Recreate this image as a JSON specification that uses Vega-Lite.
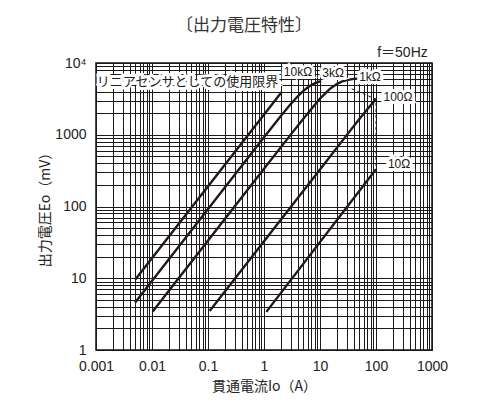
{
  "$schema": "https://vega.github.io/schema/vega-lite/v6.json",
  "width": 336,
  "height": 287,
  "autosize": {"type": "none"},
  "padding": {"left": 96, "top": 63, "right": 56, "bottom": 50},
  "background": "white",
  "title": {"text": "〔出力電圧特性〕", "font": "Noto Sans CJK JP", "fontSize": 17, "fontWeight": "normal", "color": "#333", "anchor": "middle", "frame": "group", "offset": 11, "dx": -20},
  "config": {
    "view": {"stroke": "#111", "strokeWidth": 1.5},
    "axis": {"gridColor": "#1a1a1a", "gridOpacity": 1, "gridWidth": 1, "ticks": false, "domain": false, "labelOverlap": false, "labelFlush": false, "labelFont": "Liberation Sans", "labelFontSize": 14, "labelColor": "#222", "titleFont": "Noto Sans CJK JP", "titleFontSize": 14, "titleFontWeight": "normal", "titleColor": "#222"}
  },
  "datasets": {
    "curves": [
      {"r": "10kΩ", "I": 0.005, "E": 9.5},
      {"r": "10kΩ", "I": 2.05, "E": 3900},
      {"r": "3kΩ", "I": 0.005, "E": 4.6},
      {"r": "3kΩ", "I": 1, "E": 920},
      {"r": "3kΩ", "I": 2, "E": 1823},
      {"r": "3kΩ", "I": 3, "E": 2676},
      {"r": "3kΩ", "I": 4, "E": 3434},
      {"r": "3kΩ", "I": 5, "E": 4064},
      {"r": "3kΩ", "I": 6, "E": 4555},
      {"r": "3kΩ", "I": 7, "E": 4924},
      {"r": "3kΩ", "I": 8, "E": 5193},
      {"r": "3kΩ", "I": 10, "E": 5530},
      {"r": "3kΩ", "I": 10.5, "E": 5586},
      {"r": "1kΩ", "I": 0.0103, "E": 3.45},
      {"r": "1kΩ", "I": 1, "E": 335},
      {"r": "1kΩ", "I": 3, "E": 1004},
      {"r": "1kΩ", "I": 5, "E": 1664},
      {"r": "1kΩ", "I": 10, "E": 3190},
      {"r": "1kΩ", "I": 15, "E": 4359},
      {"r": "1kΩ", "I": 20, "E": 5105},
      {"r": "1kΩ", "I": 25, "E": 5536},
      {"r": "1kΩ", "I": 30, "E": 5779},
      {"r": "1kΩ", "I": 40, "E": 6010},
      {"r": "1kΩ", "I": 48, "E": 6087},
      {"r": "100Ω", "I": 0.107, "E": 3.5},
      {"r": "100Ω", "I": 10, "E": 327},
      {"r": "100Ω", "I": 30, "E": 988},
      {"r": "100Ω", "I": 50, "E": 1639},
      {"r": "100Ω", "I": 70, "E": 2268},
      {"r": "100Ω", "I": 100, "E": 3135},
      {"r": "10Ω", "I": 1.1, "E": 3.4},
      {"r": "10Ω", "I": 100, "E": 330}
    ],
    "limit": [
      {"o": 1, "I": 37, "E": 4350},
      {"o": 2, "I": 100, "E": 3135},
      {"o": 3, "I": 100, "E": 330}
    ],
    "rlabels": [
      {"t": "10kΩ", "I": 4.05, "E": 7500},
      {"t": "3kΩ", "I": 17.1, "E": 7260},
      {"t": "1kΩ", "I": 78, "E": 6280},
      {"t": "100Ω", "I": 247, "E": 3357},
      {"t": "10Ω", "I": 258, "E": 391}
    ],
    "jlabels": [
      {"t": "リニアセンサとしての使用限界", "I": 0.043, "E": 5430}
    ],
    "flabel": [
      {"t": "f＝50Hz", "I": 297, "E": 13780}
    ]
  },
  "encoding": {
    "x": {"field": "I", "type": "quantitative", "scale": {"type": "log", "domain": [0.001, 1000], "nice": false},
      "axis": {"values": [0.001,0.002,0.003,0.004,0.005,0.006,0.007,0.008,0.009,0.01,0.02,0.03,0.04,0.05,0.06,0.07,0.08,0.09,0.1,0.2,0.3,0.4,0.5,0.6,0.7,0.8,0.9,1,2,3,4,5,6,7,8,9,10,20,30,40,50,60,70,80,90,100,200,300,400,500,600,700,800,900,1000],
        "labelExpr": "abs(log(datum.value)/LN10 - round(log(datum.value)/LN10)) < 0.001 ? format(datum.value, '~g') : ''",
        "labelPadding": 9, "title": "貫通電流Io（A）", "titleY": 36, "titleBaseline": "middle"}},
    "y": {"field": "E", "type": "quantitative", "scale": {"type": "log", "domain": [1, 10000], "nice": false},
      "axis": {"values": [1,2,3,4,5,6,7,8,9,10,20,30,40,50,60,70,80,90,100,200,300,400,500,600,700,800,900,1000,2000,3000,4000,5000,6000,7000,8000,9000,10000],
        "labelExpr": "datum.value == 10000 ? '10⁴' : (abs(log(datum.value)/LN10 - round(log(datum.value)/LN10)) < 0.001 ? format(datum.value, '~g') : '')",
        "labelPadding": 10, "title": "出力電圧Eo（mV）", "titleX": -51, "titleY": 143, "titleAlign": "center", "titleBaseline": "middle", "titleAngle": -90}}
  },
  "layer": [
    {"data": {"name": "curves"}, "mark": {"type": "line", "color": "#231815", "strokeWidth": 2.4}, "encoding": {"detail": {"field": "r"}}},
    {"data": {"name": "limit"}, "mark": {"type": "line", "color": "#231815", "strokeWidth": 1, "strokeDash": [3, 3]}, "encoding": {"order": {"field": "o"}}},
    {"data": {"name": "rlabels"}, "mark": {"type": "text", "font": "Liberation Sans", "fontSize": 12, "stroke": "white", "strokeWidth": 6, "fill": "white", "align": "center", "baseline": "middle"}, "encoding": {"text": {"field": "t"}}},
    {"data": {"name": "rlabels"}, "mark": {"type": "text", "font": "Liberation Sans", "fontSize": 12, "fill": "#231815", "align": "center", "baseline": "middle"}, "encoding": {"text": {"field": "t"}}},
    {"data": {"name": "jlabels"}, "mark": {"type": "text", "font": "Noto Sans CJK JP", "fontSize": 13, "stroke": "white", "strokeWidth": 6, "fill": "white", "align": "center", "baseline": "middle"}, "encoding": {"text": {"field": "t"}}},
    {"data": {"name": "jlabels"}, "mark": {"type": "text", "font": "Noto Sans CJK JP", "fontSize": 13, "fill": "#231815", "align": "center", "baseline": "middle"}, "encoding": {"text": {"field": "t"}}},
    {"data": {"name": "flabel"}, "mark": {"type": "text", "font": "Liberation Sans, Noto Sans CJK JP", "fontSize": 14, "fill": "#222", "align": "center", "baseline": "middle"}, "encoding": {"text": {"field": "t"}}}
  ]
}
